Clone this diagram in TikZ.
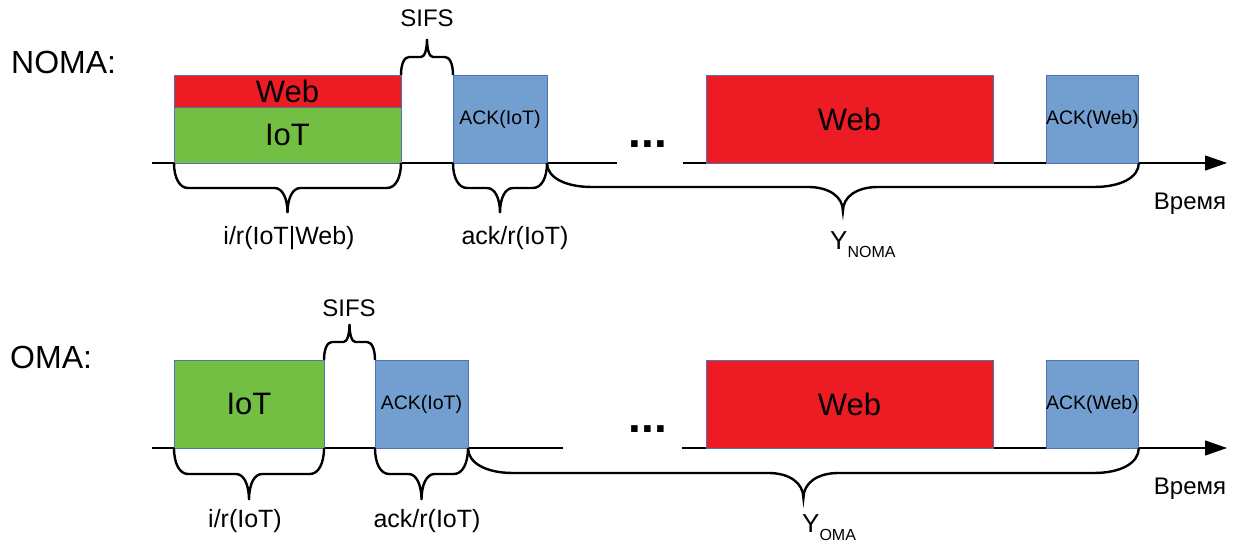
\documentclass[tikz,border=0pt]{standalone}
\usepackage{fontspec}
\setmainfont{Liberation Sans}
\usepackage{xcolor}
\definecolor{SlotGreen}{RGB}{114,191,68}
\definecolor{SlotRed}{RGB}{237,28,36}
\definecolor{SlotBlue}{RGB}{114,159,207}
\definecolor{SlotEdge}{RGB}{80,115,175}
\usepackage{tikz}
\usetikzlibrary{calc, positioning, arrows.meta}
% curly brace under / over two points: #3 half depth, #4 end corner, #5 middle corner
\newcommand{\bracebelow}[5]{%
  \draw[bracepath] (#1) .. controls +(0,-0.6*#3) and +(-0.6*#4,0) .. ($(#1)+(#4,-#3)$)
    -- ($(#1)!0.5!(#2)+(-#5,-#3)$) .. controls +(0.6*#5,0) and +(0,0.6*#3) .. ($(#1)!0.5!(#2)+(0,-2*#3)$)
    .. controls +(0,0.6*#3) and +(-0.6*#5,0) .. ($(#1)!0.5!(#2)+(#5,-#3)$)
    -- ($(#2)+(-#4,-#3)$) .. controls +(0.6*#4,0) and +(0,-0.6*#3) .. (#2);}
\newcommand{\braceabove}[5]{%
  \draw[bracepath] (#1) .. controls +(0,0.6*#3) and +(-0.6*#4,0) .. ($(#1)+(#4,#3)$)
    -- ($(#1)!0.5!(#2)+(-#5,#3)$) .. controls +(0.6*#5,0) and +(0,-0.6*#3) .. ($(#1)!0.5!(#2)+(0,2*#3)$)
    .. controls +(0,-0.6*#3) and +(-0.6*#5,0) .. ($(#1)!0.5!(#2)+(#5,#3)$)
    -- ($(#2)+(-#4,#3)$) .. controls +(0.6*#4,0) and +(0,0.6*#3) .. (#2);}
\newcommand{\fsz}[1]{\fontsize{#1}{#1}\selectfont}

\begin{document}
\begin{tikzpicture}[
    x=1pt, y=1pt,
    % Styles
    slot/.style={rectangle, draw=SlotEdge, line width=0.8pt, inner sep=0pt, outer sep=0pt, anchor=south west, font=\fsz{31}},
    iotslot/.style={slot, fill=SlotGreen},
    webslot/.style={slot, fill=SlotRed},
    ackslot/.style={slot, fill=SlotBlue, font=\fsz{19.5}},
    axis/.style={line width=1.2pt},
    timeaxis/.style={axis, -{Triangle[length=22pt, width=15pt]}},
    bracepath/.style={line width=2.4pt},
    lbl/.style={inner sep=0pt, font=\fsz{25}},
    scheme/.style={lbl, anchor=west, font=\fsz{32}},
    dots/.style={inner sep=0pt, anchor=base, font=\bfseries\fsz{46}}
]
    \useasboundingbox (0,0) rectangle (1237,546);

    % 1. NOMA
    \node[scheme] (noma) at (11,484) {NOMA:};
    \coordinate (n0) at (152,383);
    \coordinate (n1) at (617,383);
    \coordinate (n2) at (683,383);
    \coordinate (n3) at (1227,383);
    \draw[axis] (n0) -- (n1);
    \draw[timeaxis] (n2) -- (n3);

    \node[iotslot, minimum width=227pt, minimum height=56pt] (niot) at (174,383) {IoT};
    \node[webslot, minimum width=227pt, minimum height=32pt] (nweb) at (174,439) {Web};
    \node[ackslot, minimum width=94pt, minimum height=88pt] (nack) at (453,383) {ACK(IoT)};
    \node[dots] (ndots) at (648,398) {...};
    \node[webslot, minimum width=287pt, minimum height=88pt] (nwebl) at (706,383) {Web};
    \node[ackslot, minimum width=92pt, minimum height=88pt] (nackw) at (1046,383) {ACK(Web)};

    \braceabove{nweb.north east}{nack.north west}{18}{8}{6}
    \bracebelow{niot.south west}{niot.south east}{25}{14}{13}
    \bracebelow{nack.south west}{nack.south east}{25}{14}{13}
    \bracebelow{nack.south east}{nackw.south east}{24}{45}{35}

    \node[lbl, font=\fsz{24}] (nsifs) at (427,528) {SIFS};
    \node[lbl] (nir) at (289,308) {i/r(IoT|Web)};
    \node[lbl] (nackr) at (515,308) {ack/r(IoT)};
    \node[lbl, anchor=base west, font=\fsz{26}] (ny) at (830,296) {Y\raisebox{-8pt}{\fsz{16}NOMA}};
    \node[lbl, font=\fsz{24}] (ntime) at (1190,342) {Время};

    % 2. OMA
    \node[scheme] (oma) at (10,189) {OMA:};
    \coordinate (o0) at (152,98);
    \coordinate (o1) at (563,98);
    \coordinate (o2) at (682,98);
    \coordinate (o3) at (1227,98);
    \draw[axis] (o0) -- (o1);
    \draw[timeaxis] (o2) -- (o3);

    \node[iotslot, minimum width=150pt, minimum height=88pt] (oiot) at (174,98) {IoT};
    \node[ackslot, minimum width=93pt, minimum height=88pt] (oack) at (375,98) {ACK(IoT)};
    \node[dots] (odots) at (648,113) {...};
    \node[webslot, minimum width=287pt, minimum height=88pt] (oweb) at (706,98) {Web};
    \node[ackslot, minimum width=92pt, minimum height=88pt] (oackw) at (1046,98) {ACK(Web)};

    \braceabove{oiot.north east}{oack.north west}{18}{8}{6}
    \bracebelow{oiot.south west}{oiot.south east}{26}{14}{13}
    \bracebelow{oack.south west}{oack.south east}{26}{14}{13}
    \bracebelow{oack.south east}{oackw.south east}{25}{45}{35}

    \node[lbl, font=\fsz{24}] (osifs) at (349,238) {SIFS};
    \node[lbl] (oir) at (245,25) {i/r(IoT)};
    \node[lbl] (oackr) at (427,25) {ack/r(IoT)};
    \node[lbl, anchor=base west, font=\fsz{26}] (oy) at (802,13) {Y\raisebox{-8pt}{\fsz{16}OMA}};
    \node[lbl, font=\fsz{24}] (otime) at (1190,57) {Время};
\end{tikzpicture}
\end{document}
